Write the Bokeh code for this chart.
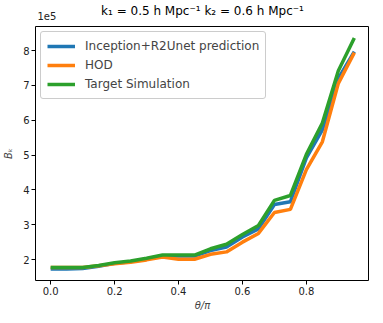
from bokeh.plotting import figure
from bokeh.models import Range1d, FixedTicker, CustomJSTickFormatter, Legend, LegendItem, LinearAxis
from bokeh.embed import file_html
from bokeh.resources import INLINE

theta = [0.0, 0.05, 0.1, 0.15, 0.2, 0.25, 0.3, 0.35, 0.4, 0.45,
         0.5, 0.55, 0.6, 0.65, 0.7, 0.75, 0.8, 0.85, 0.9, 0.95]
pred = [1.73, 1.73, 1.74, 1.81, 1.89, 1.94, 2.02, 2.11, 2.10, 2.10,
        2.26, 2.36, 2.65, 2.88, 3.58, 3.66, 4.92, 5.72, 7.20, 7.97]
hod = [1.77, 1.77, 1.77, 1.82, 1.88, 1.92, 1.99, 2.07, 2.01, 2.01,
       2.15, 2.22, 2.50, 2.75, 3.35, 3.44, 4.58, 5.38, 7.06, 7.94]
target = [1.77, 1.77, 1.77, 1.83, 1.91, 1.96, 2.04, 2.13, 2.13, 2.13,
          2.31, 2.44, 2.72, 2.98, 3.70, 3.84, 5.02, 5.92, 7.42, 8.36]
scale = 1e5
pred = [v * scale for v in pred]
hod = [v * scale for v in hod]
target = [v * scale for v in target]

labels = ["Inception+R2Unet prediction", "HOD", "Target Simulation"]
colors = ["#1f77b4", "#ff7f0e", "#2ca02c"]
x_ticks = [0.0, 0.2, 0.4, 0.6, 0.8]
y_ticks = [2e5, 3e5, 4e5, 5e5, 6e5, 7e5, 8e5]
title_text = "k\u2081 = 0.5 h Mpc\u207b\u00b9 k\u2082 = 0.6 h Mpc\u207b\u00b9"
offset_text = "1e5"

xmin, xmax = min(theta), max(theta)
allv = pred + hod + target
ymin, ymax = min(allv), max(allv)
xm = 0.05 * (xmax - xmin)
ym = 0.05 * (ymax - ymin)

FONT = "DejaVu Sans"

p = figure(output_backend="svg", toolbar_location=None,
           x_range=Range1d(xmin - xm, xmax + xm), y_range=Range1d(ymin - ym, ymax + ym),
           min_border_left=35, min_border_right=0, min_border_top=18, min_border_bottom=36)
p.title.visible = False
p.frame_width = 334
p.frame_height = 254

p.grid.visible = False
p.outline_line_color = "black"
p.outline_line_width = 1
p.outline_line_alpha = 1

for ax in (p.xaxis[0], p.yaxis[0]):
    ax.axis_line_color = None
    ax.major_tick_line_color = "black"
    ax.major_tick_out = 4
    ax.major_tick_in = 0
    ax.minor_tick_line_color = None
    ax.major_label_text_font = FONT
    ax.major_label_text_font_size = "10px"
    ax.major_label_text_color = "#222222"
    ax.axis_label_text_font = FONT
    ax.axis_label_text_font_size = "10px"
    ax.axis_label_text_font_style = "italic"

p.xaxis.ticker = FixedTicker(ticks=x_ticks)
p.yaxis.ticker = FixedTicker(ticks=y_ticks)
p.xaxis.formatter = CustomJSTickFormatter(code="return tick.toFixed(1);")
p.yaxis.formatter = CustomJSTickFormatter(code="return (tick/1e5).toFixed(0);")
p.xaxis.axis_label = "\u03b8/\u03c0"
p.yaxis.axis_label = "B\u2096"
p.xaxis.major_label_standoff = 2
p.yaxis.major_label_standoff = 2
p.xaxis.axis_label_standoff = 2
p.yaxis.axis_label_standoff = 6

# top axis carrying the title and the "1e5" offset text
top = LinearAxis(ticker=FixedTicker(ticks=[xmin - xm * 0.25]),
                 major_label_overrides={xmin - xm * 0.25: offset_text})
top.axis_line_color = None
top.major_tick_line_color = None
top.minor_tick_line_color = None
top.major_label_standoff = 1
top.major_label_text_font = FONT
top.major_label_text_font_size = "10px"
top.major_label_text_color = "#222222"
top.axis_label = title_text
top.axis_label_text_font = FONT
top.axis_label_text_font_size = "12px"
top.axis_label_text_font_style = "normal"
top.axis_label_text_color = "black"
top.axis_label_standoff = -9
p.add_layout(top, "above")

renderers = []
for ys, c in zip([pred, hod, target], colors):
    r = p.line(theta, ys, line_color=c, line_width=3.5)
    renderers.append(r)

legend = Legend(items=[LegendItem(label=l, renderers=[r]) for l, r in zip(labels, renderers)],
                location="top_left")
legend.label_text_font = FONT
legend.label_text_font_size = "12px"
legend.border_line_color = "#cccccc"
legend.border_line_alpha = 1
legend.border_radius = 3
legend.background_fill_alpha = 0.8
legend.glyph_width = 28
legend.glyph_height = 16
legend.label_height = 16
legend.label_standoff = 10
legend.spacing = 3
legend.padding = 6
legend.margin = 5
p.add_layout(legend)

open("out.html", "w").write(file_html(p, INLINE))
